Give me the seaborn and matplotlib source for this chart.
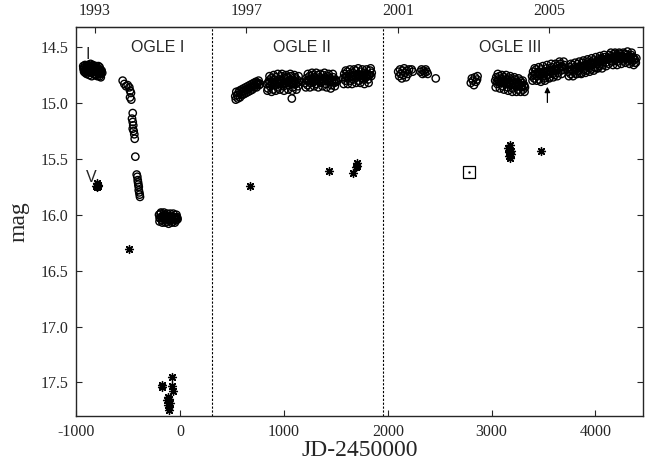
import numpy as np
import pandas as pd
import seaborn as sns
import matplotlib.pyplot as plt

# I band (open circles), one list per observing season
s1_jd = [-935, -930, -925, -918, -910, -905, -898, -892, -885, -880, -874, -868, -862, -857, -851,
         -846, -840, -835, -829, -824, -818, -813, -808, -802, -797, -791, -786, -780, -775, -770,
         -764, -758, -752,
         -927, -915, -902, -889, -877, -865, -853, -842, -831, -820, -810, -799, -788, -777, -766,
         -932, -920, -907, -895, -882, -870, -859, -848, -837, -826, -815, -804, -793, -782, -772, -761]
s1_mag = [14.67, 14.70, 14.68, 14.66, 14.69, 14.71, 14.67, 14.70, 14.68, 14.72, 14.69, 14.71, 14.67,
          14.73, 14.70, 14.68, 14.72, 14.69, 14.74, 14.71, 14.68, 14.72, 14.75, 14.70, 14.73, 14.69,
          14.74, 14.71, 14.76, 14.72, 14.74, 14.71, 14.73,
          14.72, 14.73, 14.74, 14.66, 14.75, 14.65, 14.76, 14.66, 14.67, 14.75, 14.67, 14.76, 14.67,
          14.68, 14.77,
          14.69, 14.71, 14.70, 14.72, 14.70, 14.71, 14.70, 14.71, 14.71, 14.70, 14.71, 14.72, 14.71,
          14.72, 14.73, 14.72]

s2_jd = [-555, -539, -523, -507, -491, -484, -475, -484, -472,
         -458, -465, -458, -453, -458, -449, -443, -439,
         -433,
         -420, -414, -410, -407, -404, -400, -400, -395, -391, -388]
s2_mag = [14.80, 14.83, 14.85, 14.84, 14.86, 14.89, 14.91, 14.95, 14.97,
          15.09, 15.14, 15.17, 15.20, 15.23, 15.25, 15.28, 15.32,
          15.48,
          15.64, 15.66, 15.69, 15.71, 15.73, 15.75, 15.78, 15.80, 15.82, 15.84]

s3_jd = [-205, -198, -190, -183, -176, -168, -160, -152, -145, -138, -130, -122, -115, -108, -100,
         -92, -85, -78, -70, -62, -55, -48, -40, -32, -26,
         -200, -186, -172, -157, -142, -127, -112, -97, -82, -67, -52, -37,
         -195, -180, -165, -150, -135, -120, -105, -90, -75, -60, -45, -30]
s3_mag = [16.00, 16.03, 15.99, 16.02, 16.05, 16.01, 16.03, 16.00, 16.04, 16.02, 16.06, 16.01, 16.03,
          16.05, 16.02, 16.04, 16.01, 16.03, 16.06, 16.02, 16.04, 16.03, 16.05, 16.02, 16.04,
          16.06, 15.98, 16.07, 15.98, 16.07, 15.99, 16.08, 15.99, 16.07, 15.99, 16.07, 16.00,
          16.03, 16.02, 16.03, 16.02, 16.03, 16.03, 16.02, 16.03, 16.04, 16.03, 16.03, 16.03]

s4_jd = [530, 540, 550, 560, 570, 580, 590, 600, 610, 620, 630, 640, 650, 660, 670, 680, 690, 700,
         710, 720, 730, 740, 750, 760, 770,
         535, 555, 575, 595, 615, 635, 655, 675, 695, 715, 735, 755]
s4_mag = [14.94, 14.90, 14.93, 14.91, 14.89, 14.92, 14.88, 14.90, 14.87, 14.89, 14.86, 14.88, 14.85,
          14.87, 14.84, 14.86, 14.83, 14.85, 14.82, 14.84, 14.81, 14.83, 14.82, 14.84, 14.83,
          14.97, 14.96, 14.95, 14.93, 14.92, 14.91, 14.90, 14.89, 14.88, 14.86, 14.86, 14.80]

s5_jd = [835, 845, 855, 865, 875, 885, 895, 905, 915, 925, 935, 945, 955, 965, 975, 985, 995, 1005,
         1015, 1025, 1035, 1045, 1055, 1065, 1075, 1085, 1095, 1105, 1115, 1125, 1135, 1145, 1075,
         840, 860, 880, 900, 920, 940, 960, 980, 1000, 1020, 1040, 1060, 1080, 1100, 1120, 1140,
         850, 870, 890, 910, 930, 950, 970, 990, 1010, 1030, 1050, 1070, 1090, 1110, 1130]
s5_mag = [14.83, 14.87, 14.80, 14.85, 14.78, 14.82, 14.88, 14.79, 14.84, 14.77, 14.81, 14.86, 14.79,
          14.83, 14.76, 14.80, 14.85, 14.78, 14.82, 14.77, 14.81, 14.84, 14.79, 14.76, 14.82, 14.86,
          14.80, 14.77, 14.83, 14.79, 14.85, 14.81, 14.96,
          14.89, 14.76, 14.90, 14.75, 14.89, 14.74, 14.88, 14.74, 14.89, 14.75, 14.88, 14.74, 14.89,
          14.75, 14.88, 14.76,
          14.82, 14.81, 14.83, 14.82, 14.81, 14.82, 14.81, 14.83, 14.82, 14.81, 14.82, 14.83, 14.82,
          14.81, 14.82]

s6_jd = [1205, 1215, 1225, 1235, 1245, 1255, 1265, 1275, 1285, 1295, 1305, 1315, 1325, 1335, 1345,
         1355, 1365, 1375, 1385, 1395, 1405, 1415, 1425, 1435, 1445, 1455, 1465, 1475, 1485, 1495, 1505,
         1210, 1230, 1250, 1270, 1290, 1310, 1330, 1350, 1370, 1390, 1410, 1430, 1450, 1470, 1490,
         1220, 1240, 1260, 1280, 1300, 1320, 1340, 1360, 1380, 1400, 1420, 1440, 1460, 1480, 1500]
s6_mag = [14.82, 14.78, 14.84, 14.80, 14.76, 14.82, 14.78, 14.75, 14.81, 14.77, 14.83, 14.79, 14.75,
          14.80, 14.77, 14.82, 14.78, 14.75, 14.80, 14.77, 14.83, 14.79, 14.76, 14.81, 14.78, 14.84,
          14.80, 14.77, 14.82, 14.79, 14.81,
          14.86, 14.74, 14.86, 14.73, 14.85, 14.73, 14.86, 14.74, 14.85, 14.73, 14.86, 14.74, 14.87,
          14.74, 14.85,
          14.80, 14.79, 14.80, 14.79, 14.80, 14.79, 14.81, 14.79, 14.80, 14.79, 14.80, 14.80, 14.81,
          14.80, 14.80]

s7_jd = [1570, 1580, 1590, 1600, 1610, 1620, 1630, 1640, 1650, 1660, 1670, 1680, 1690, 1700, 1710,
         1720, 1730, 1740, 1750, 1760, 1770, 1780, 1790, 1800, 1810, 1820, 1830, 1840, 1845,
         1575, 1595, 1615, 1635, 1655, 1675, 1695, 1715, 1735, 1755, 1775, 1795, 1815, 1835,
         1585, 1605, 1625, 1645, 1665, 1685, 1705, 1725, 1745, 1765, 1785, 1805, 1825]
s7_mag = [14.78, 14.74, 14.80, 14.76, 14.72, 14.78, 14.74, 14.80, 14.76, 14.73, 14.79, 14.75, 14.71,
          14.77, 14.74, 14.80, 14.76, 14.72, 14.78, 14.75, 14.79, 14.73, 14.77, 14.74, 14.79, 14.75,
          14.71, 14.76, 14.73,
          14.83, 14.71, 14.83, 14.70, 14.83, 14.70, 14.82, 14.69, 14.82, 14.70, 14.83, 14.70, 14.82,
          14.69,
          14.77, 14.76, 14.77, 14.76, 14.76, 14.76, 14.75, 14.76, 14.75, 14.76, 14.76, 14.76, 14.75]

s8_jd = [2100, 2110, 2118, 2125, 2135, 2142, 2150, 2158, 2165, 2175, 2185, 2195, 2205, 2230, 2240,
         2315, 2325, 2335, 2345, 2355, 2365, 2375, 2385, 2462,
         2800, 2810, 2820, 2830, 2840, 2850, 2860, 2865]
s8_mag = [14.72, 14.76, 14.70, 14.74, 14.78, 14.71, 14.75, 14.69, 14.73, 14.77, 14.71, 14.74, 14.70,
          14.70, 14.72,
          14.72, 14.70, 14.74, 14.71, 14.73, 14.70, 14.72, 14.74, 14.78,
          14.82, 14.78, 14.80, 14.84, 14.77, 14.81, 14.79, 14.76]

s9_jd = [3035, 3045, 3055, 3065, 3075, 3085, 3095, 3105, 3115, 3125, 3135, 3145, 3155, 3165, 3175,
         3185, 3195, 3205, 3215, 3225, 3235, 3245, 3255, 3265, 3275, 3285, 3295, 3305, 3315, 3322,
         3040, 3060, 3080, 3100, 3120, 3140, 3160, 3180, 3200, 3220, 3240, 3260, 3280, 3300, 3318,
         3050, 3070, 3090, 3110, 3130, 3150, 3170, 3190, 3210, 3230, 3250, 3270, 3290, 3310]
s9_mag = [14.80, 14.77, 14.83, 14.79, 14.76, 14.82, 14.78, 14.85, 14.80, 14.77, 14.83, 14.79, 14.86,
          14.81, 14.78, 14.84, 14.80, 14.87, 14.82, 14.79, 14.85, 14.81, 14.88, 14.83, 14.80, 14.86,
          14.82, 14.88, 14.84, 14.86,
          14.86, 14.74, 14.87, 14.75, 14.88, 14.75, 14.89, 14.76, 14.90, 14.77, 14.90, 14.78, 14.90,
          14.80, 14.90,
          14.81, 14.81, 14.81, 14.82, 14.81, 14.82, 14.82, 14.83, 14.83, 14.83, 14.84, 14.84, 14.85,
          14.85]

s10_jd = [3390, 3400, 3410, 3420, 3430, 3440, 3450, 3460, 3470, 3480, 3490, 3500, 3510, 3520, 3530,
          3540, 3550, 3560, 3570, 3580, 3590, 3600, 3610, 3620, 3630, 3640, 3650, 3660, 3670, 3680,
          3690, 3700,
          3395, 3415, 3435, 3455, 3475, 3495, 3515, 3535, 3555, 3575, 3595, 3615, 3635, 3655, 3675, 3695,
          3405, 3425, 3445, 3465, 3485, 3505, 3525, 3545, 3565, 3585, 3605, 3625, 3645, 3665, 3685]
s10_mag = [14.76, 14.72, 14.78, 14.74, 14.70, 14.76, 14.72, 14.79, 14.74, 14.70, 14.76, 14.72, 14.78,
           14.73, 14.69, 14.75, 14.71, 14.77, 14.72, 14.68, 14.74, 14.70, 14.75, 14.71, 14.67, 14.73,
           14.69, 14.65, 14.71, 14.67, 14.70, 14.66,
           14.80, 14.69, 14.80, 14.68, 14.81, 14.67, 14.80, 14.66, 14.78, 14.65, 14.77, 14.65, 14.76,
           14.63, 14.74, 14.63,
           14.75, 14.74, 14.74, 14.74, 14.73, 14.73, 14.72, 14.72, 14.71, 14.71, 14.70, 14.70, 14.69,
           14.68, 14.68]

s11_jd = [3740, 3750, 3760, 3770, 3780, 3790, 3800, 3810, 3820, 3830, 3840, 3850, 3860, 3870, 3880,
          3890, 3900, 3910, 3920, 3930, 3940, 3950, 3960, 3970, 3980, 3990, 4000, 4010, 4020, 4030,
          4040, 4050, 4060, 4070, 4080, 4090, 4100, 4110,
          3745, 3765, 3785, 3805, 3825, 3845, 3865, 3885, 3905, 3925, 3945, 3965, 3985, 4005, 4025,
          4045, 4065, 4085, 4105,
          3755, 3775, 3795, 3815, 3835, 3855, 3875, 3895, 3915, 3935, 3955, 3975, 3995, 4015, 4035,
          4055, 4075, 4095]
s11_mag = [14.72, 14.68, 14.74, 14.70, 14.66, 14.72, 14.68, 14.74, 14.69, 14.65, 14.71, 14.67, 14.73,
           14.68, 14.64, 14.70, 14.66, 14.71, 14.67, 14.63, 14.69, 14.65, 14.70, 14.66, 14.62, 14.68,
           14.64, 14.69, 14.65, 14.61, 14.67, 14.63, 14.60, 14.66, 14.62, 14.59, 14.64, 14.61,
           14.76, 14.65, 14.76, 14.64, 14.74, 14.63, 14.74, 14.62, 14.73, 14.61, 14.72, 14.60, 14.71,
           14.59, 14.69, 14.58, 14.69, 14.57, 14.67,
           14.71, 14.70, 14.70, 14.69, 14.68, 14.68, 14.67, 14.67, 14.66, 14.65, 14.65, 14.64, 14.64,
           14.63, 14.62, 14.62, 14.61, 14.61]

s12_jd = [4125, 4135, 4145, 4155, 4165, 4175, 4185, 4195, 4205, 4215, 4225, 4235, 4245, 4255, 4265,
          4275, 4285, 4295, 4305, 4315, 4325, 4335, 4345, 4355, 4365, 4375, 4385, 4395,
          4130, 4150, 4170, 4190, 4210, 4230, 4250, 4270, 4290, 4310, 4330, 4350, 4370, 4390,
          4140, 4160, 4180, 4200, 4220, 4240, 4260, 4280, 4300, 4320, 4340, 4360, 4380]
s12_mag = [14.60, 14.57, 14.62, 14.58, 14.63, 14.59, 14.56, 14.61, 14.58, 14.63, 14.59, 14.56, 14.61,
           14.58, 14.62, 14.59, 14.56, 14.60, 14.57, 14.62, 14.58, 14.61, 14.57, 14.63, 14.59, 14.61,
           14.64, 14.60,
           14.65, 14.55, 14.66, 14.55, 14.66, 14.55, 14.65, 14.55, 14.64, 14.54, 14.65, 14.55, 14.66,
           14.64,
           14.60, 14.60, 14.60, 14.59, 14.60, 14.59, 14.60, 14.59, 14.59, 14.60, 14.59, 14.60, 14.61]

# V band (asterisks)
v_jd = [-812, -806, -800, -795, -790, -494,
        -173, -178, -77, -77, -73, -120, -110, -128, -100, -115, -108, -105,
        672, 1437, 1662, 1700, 1705, 1695,
        3160, 3170, 3180, 3165, 3175, 3185, 3190, 3474]
v_mag = [15.74, 15.72, 15.75, 15.73, 15.74, 16.31,
         17.54, 17.52, 17.45, 17.53, 17.58, 17.63, 17.65, 17.66, 17.68, 17.70, 17.75, 17.72,
         15.74, 15.61, 15.63, 15.56, 15.54, 15.57,
         15.40, 15.44, 15.38, 15.47, 15.49, 15.43, 15.46, 15.43]

# survey boundaries and labels
boundaries = [302, 1956]
survey_names = ["OGLE I", "OGLE II", "OGLE III"]
survey_x = [-215, 1175, 3178]
year_labels = ["1993", "1997", "2001", "2005"]
year_jd = [-826, 635, 2096, 3557]

square_jd, square_mag = 2786, 15.62
arrow_jd, arrow_tip, arrow_tail = 3538, 14.83, 15.02

i_jd = s1_jd + s2_jd + s3_jd + s4_jd + s5_jd + s6_jd + s7_jd + s8_jd + s9_jd + s10_jd + s11_jd + s12_jd
i_mag = (s1_mag + s2_mag + s3_mag + s4_mag + s5_mag + s6_mag + s7_mag + s8_mag + s9_mag + s10_mag
         + s11_mag + s12_mag)
df_i = pd.DataFrame({"jd": i_jd, "mag": i_mag})
df_v = pd.DataFrame({"jd": v_jd, "mag": v_mag})

sns.set_style("ticks")
plt.rcParams["font.family"] = ["Liberation Serif", "DejaVu Serif"]
plt.rcParams["axes.unicode_minus"] = False

fig = plt.figure(figsize=(6.45, 4.66), dpi=100)
ax = fig.add_axes([0.1186, 0.1073, 0.8784, 0.8348])

sns.scatterplot(data=df_i, x="jd", y="mag", ax=ax, marker="o", s=28,
                facecolors="none", edgecolor="black", linewidth=1.0)
sns.scatterplot(data=df_v, x="jd", y="mag", ax=ax, marker=(8, 2, 0), s=32,
                color="black", edgecolor="black", linewidth=1.0)

for b in boundaries:
    ax.axvline(b, color="black", lw=0.8, ls=(0, (2, 1.5)))

ax.plot(square_jd, square_mag, marker="s", ms=9, mfc="none", mec="black", mew=0.9)
ax.plot(square_jd, square_mag, marker=".", ms=1.5, color="black")
ax.annotate("", xy=(arrow_jd, arrow_tip), xytext=(arrow_jd, arrow_tail),
            arrowprops=dict(arrowstyle="-|>", color="black", lw=0.9, mutation_scale=8))

for name, x in zip(survey_names, survey_x):
    ax.text(x, 14.5, name, ha="center", va="center", fontsize=11.5, family="Liberation Sans")
ax.text(-890, 14.57, "I", ha="center", va="center", fontsize=11.5, family="Liberation Sans")
ax.text(-860, 15.67, "V", ha="center", va="center", fontsize=11.5, family="Liberation Sans")

ax.set_xlim(-1000, 4460)
ax.set_ylim(17.8, 14.32)
ax.set_xticks([-1000, 0, 1000, 2000, 3000, 4000])
ax.set_yticks([14.5, 15.0, 15.5, 16.0, 16.5, 17.0, 17.5])
ax.set_yticklabels(["14.5", "15.0", "15.5", "16.0", "16.5", "17.0", "17.5"])
ax.tick_params(axis="both", direction="in", length=4, width=0.8, labelsize=11.5, pad=6)
ax.tick_params(axis="y", right=True)
ax.set_xlabel("JD-2450000", fontsize=17, labelpad=0)
ax.set_ylabel("mag", fontsize=17, labelpad=8)

top = ax.secondary_xaxis("top")
top.set_xticks(year_jd, labels=year_labels)
top.tick_params(direction="in", length=4, width=0.8, labelsize=11.5, pad=6)

for sp in ax.spines.values():
    sp.set_linewidth(1.0)

plt.savefig("out.png", dpi=100)
plt.close()
